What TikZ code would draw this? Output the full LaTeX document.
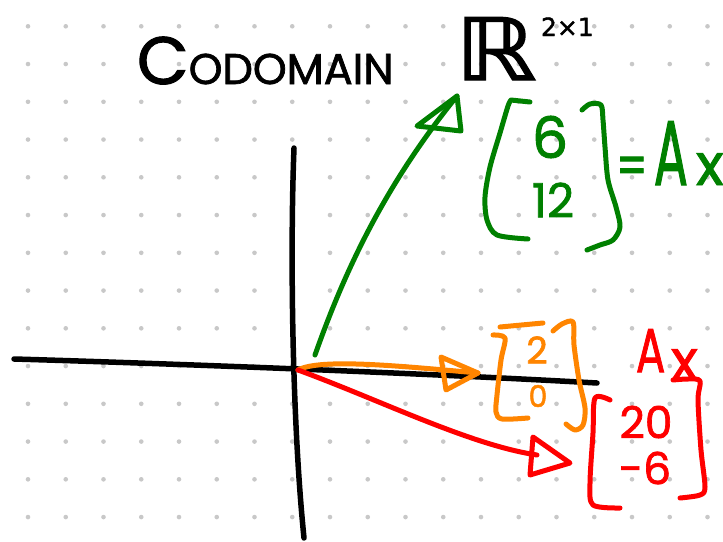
\documentclass[tikz,border=0pt]{standalone}
\usepackage{fontspec}
\setmainfont{Poppins}[FakeBold=1.6]
\newfontfamily\dvsans{DejaVu Sans}[FakeBold=1.6]
\definecolor{inkgreen}{RGB}{0,128,0}
\definecolor{inkorange}{RGB}{255,133,0}
\definecolor{inkred}{RGB}{255,0,0}
\definecolor{dotgray}{RGB}{200,200,200}
\newcommand{\fsz}[1]{\fontsize{#1}{#1}\selectfont}
\newcommand{\narrow}[2]{\scalebox{#1}[1]{#2}}
\begin{document}
\begin{tikzpicture}[x=1pt,y=-1pt,
  ink/.style={line width=5pt, line cap=round, line join=round},
  axisline/.style={ink, line width=5.5pt, black},
  lbl/.style={inner sep=0pt, outer sep=0pt}]
\useasboundingbox (0,0) rectangle (723,541);
\fill[white] (0,0) rectangle (723,541);

% dot grid paper
\foreach \i in {0,...,18}
  \foreach \j in {0,...,13}
    \fill[dotgray] ({28+37.75*\i},{26.3+37.75*\j}) circle (2.3);

% key points
\coordinate (xl) at (14,359);
\coordinate (xr) at (597,383);
\coordinate (yt) at (294,148);
\coordinate (yb) at (304,538);
\coordinate (O)  at (298,370);
\coordinate (gs) at (315,355);
\coordinate (gtip) at (457,96);
\coordinate (otip) at (478,373);
\coordinate (rtip) at (570,463);
\coordinate (rend) at (537,455);

% axes
\draw[axisline] (xl) .. controls (150,363) and (400,372) .. (xr);
\draw[axisline] (yt) .. controls (290,250) and (292,420) .. (yb);

% green vector and its arrowhead
\draw[ink, inkgreen] (gs) .. controls (345,270) and (385,185) .. (gtip);
\draw[ink, inkgreen] (gtip) -- (417,126) -- (461,131) -- cycle;

% orange vector
\draw[ink, inkorange] (O) .. controls (320,358) and (400,366) .. (otip);
\draw[ink, inkorange] (otip) -- (441,357) -- (446,390) -- cycle;

% red vector
\draw[ink, inkred] (O) .. controls (380,400) and (470,445) .. (rend);
\draw[ink, inkred] (rtip) -- (533,437) -- (530,475) -- cycle;

% green column vector
\draw[ink, inkgreen] (530,102) -- (511,100)
  plot[smooth] coordinates {(511,100) (508,106) (500,133) (490,167) (485,197) (487,220) (497,235) (528,239)};
\draw[ink, inkgreen] plot[smooth] coordinates {(582,110) (590,104) (601,105) (603,120) (605,147) (608,180) (616,207) (620,227) (613,240) (600,245) (587,250)};
\node[lbl, inkgreen] (g6) at (550,137) {\fsz{57}6};
\node[lbl, inkgreen] (g12) at (553,200) {\fsz{47}12};
\node[lbl, inkgreen, anchor=base west] (gAx) at (616,185)
  {\narrow{0.8}{\fsz{55}=}\hspace{6pt}\narrow{0.55}{\fsz{92}A}\hspace{8pt}{\fsz{58}x}};

% orange column vector
\draw[ink, inkorange] (543,323) -- (500,327);
\draw[ink, inkorange] plot[smooth] coordinates {(493,335) (505,338) (501,360) (497,395) (496,412) (502,419) (528,418)};
\draw[ink, inkorange] plot[smooth] coordinates {(553,331) (562,324) (573,322) (574,345) (579,380) (585,408) (583,425) (575,430) (566,424)};
\node[lbl, inkorange] (o2) at (537,350) {\fsz{37}2};
\node[lbl, inkorange] (o0) at (538,396) {\fsz{30}0};

% red column vector
\draw[ink, inkred] plot[smooth] coordinates {(610,400) (595,398) (593,433) (590,483) (593,505) (620,508)};
\draw[ink, inkred] plot[smooth] coordinates {(673,380) (688,379) (700,381) (698,400) (701,450) (705,487) (700,495) (680,498)};
\node[lbl, inkred] (r20) at (646,422) {\fsz{44}20};
\node[lbl, inkred] (r6) at (645,468) {\fsz{44}-6};
\node[lbl, inkred, anchor=base west] (rAx) at (636,372) {\narrow{0.7}{\fsz{62}A}};
\node[lbl, inkred, anchor=base west] (rx) at (671,380) {\fsz{56}x};

% heading
\node[lbl, anchor=base west] (title) at (137,84) {{\fsz{67}C}{\fsz{43}ODOMAIN}};
\node[lbl, anchor=base west] (space) at (455,80) {\scalebox{1.2}[1]{\dvsans\fsz{86}ℝ}};
\node[lbl, anchor=base west] (dims) at (541,36) {\dvsans\fsz{25}2×1};
\end{tikzpicture}
\end{document}
